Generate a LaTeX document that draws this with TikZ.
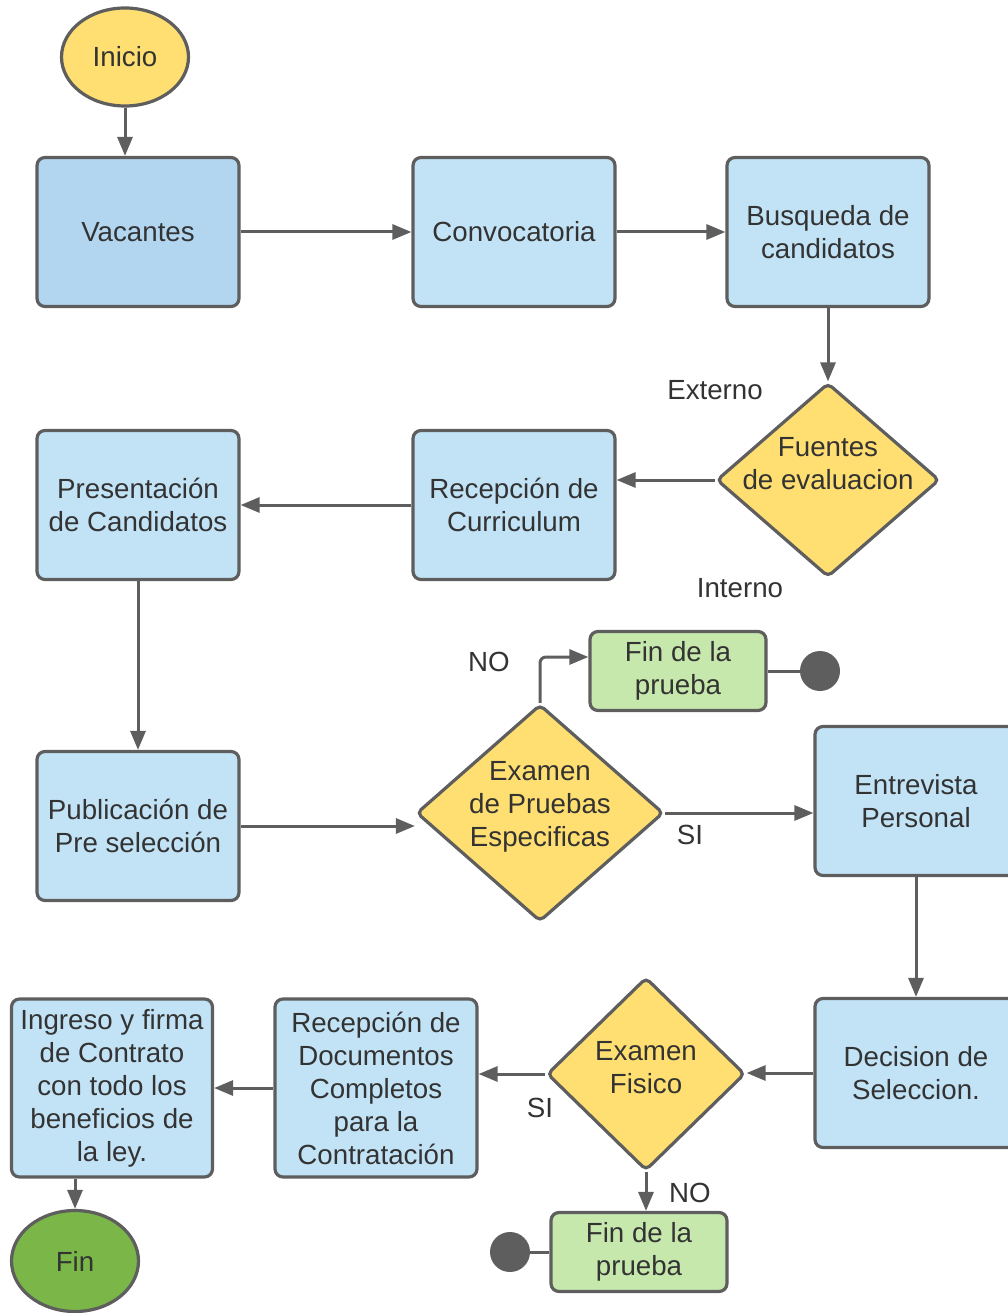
\documentclass[tikz,border=0pt]{standalone}
\usepackage{fontspec}
\setmainfont{Liberation Sans}
\usetikzlibrary{arrows.meta,shapes.geometric}

\definecolor{linegray}{HTML}{5E5E5E}
\definecolor{txtgray}{HTML}{333333}
\definecolor{boxblue}{HTML}{C2E3F6}
\definecolor{vacblue}{HTML}{B2D6F0}
\definecolor{decyellow}{HTML}{FFDF71}
\definecolor{finlight}{HTML}{C7E8AC}
\definecolor{findark}{HTML}{7AB648}

\begin{document}
\begin{tikzpicture}[x=1pt, y=-1pt,
  >={Triangle[length=19pt,width=15pt]},
  base/.style  ={draw=linegray, line width=3.2pt, text=txtgray, align=center,
                 inner sep=0pt, font=\fontsize{27.7}{33}\selectfont},
  box/.style   ={base, rounded corners=8pt, fill=boxblue,
                 minimum width=202pt, minimum height=149pt},
  tall/.style  ={box, minimum height=178pt},
  dec/.style   ={base, diamond, fill=decyellow, rounded corners=5pt},
  finbox/.style={base, rounded corners=8pt, fill=finlight,
                 minimum width=176pt, minimum height=79pt},
  term/.style  ={base, ellipse, minimum width=127pt},
  dot/.style   ={circle, fill=linegray, minimum size=40pt, inner sep=0pt},
  txt/.style   ={text=txtgray, align=center, inner sep=0pt,
                 font=\fontsize{27.7}{33}\selectfont},
  ln/.style    ={line width=3pt, draw=linegray},
  arr/.style   ={ln, ->}]

  \useasboundingbox (0,0) rectangle (1007,1313);

  % --- first row -----------------------------------------------------------
  \node[term, fill=decyellow, minimum height=98pt] (ini) at (125,57) {Inicio};
  \node[box, fill=vacblue] (vac) at (138,232) {Vacantes};
  \node[box] (conv) at (514,232) {Convocatoria};
  \node[box] (bus)  at (828,232) {Busqueda de\\candidatos};

  % --- second row ----------------------------------------------------------
  \node[dec, minimum width=223pt, minimum height=194pt] (fue) at (828,480) {};
  \node[txt] (fuet) at (828,464) {Fuentes\\de evaluacion};
  \node[box] (rcur) at (514,505) {Recepción de\\Curriculum};
  \node[box] (pres) at (138,505) {Presentación\\de Candidatos};
  \node[txt] (ext) at (715,390) {Externo};
  \node[txt] (int) at (740,588) {Interno};

  % --- third row -----------------------------------------------------------
  \node[box] (pub) at (138,826) {Publicación de\\Pre selección};
  \node[dec, minimum width=247pt, minimum height=217pt] (exa) at (540,813) {};
  \node[txt] (exat) at (540,807) {Examen\\de Pruebas\\Especificas};
  \node[finbox] (fin1) at (678,671) {Fin de la\\prueba};
  \node[dot] (dot1) at (820,671) {};
  \node[box] (ent) at (916,801) {Entrevista\\Personal};
  \node[txt] (no1) at (489,662) {NO};
  \node[txt] (si1) at (690,835) {SI};

  % --- fourth row ----------------------------------------------------------
  \node[box] (dsel) at (916,1073) {Decision de\\Seleccion.};
  \node[dec, minimum width=198pt, minimum height=193pt] (fis) at (646,1074) {};
  \node[txt] (fist) at (646,1068) {Examen\\Fisico};
  \node[tall] (rdoc) at (376,1088)
    {Recepción de\\Documentos\\Completos\\para la\\Contratación};
  \node[tall, minimum width=201pt] (ing) at (112,1088)
    {Ingreso y firma\\de Contrato\\con todo los\\beneficios de\\la ley.};
  \node[finbox] (fin2) at (639,1252) {Fin de la\\prueba};
  \node[dot] (dot2) at (510,1252) {};
  \node[term, fill=findark, minimum height=101pt] (fin) at (75,1261) {Fin};
  \node[txt] (si2) at (540,1108) {SI};
  \node[txt] (no2) at (690,1193) {NO};

  % --- connectors ----------------------------------------------------------
  \draw[arr] (ini.south) -- (ini.south |- vac.north);
  \draw[arr] (vac) -- (conv);
  \draw[arr] (conv) -- (bus);
  \draw[arr] (bus) -- (fue);
  \draw[arr] (fue.west) -- (fue.west -| rcur.east);
  \draw[arr] (rcur) -- (pres);
  \draw[arr] (pres) -- (pub);
  \draw[arr] (pub.east) -- (pub.east -| exa.west);
  \draw[arr] (exa.east) -- (exa.east -| ent.west);
  \draw[arr, rounded corners=6pt] (exa.north) |- ([yshift=14pt]fin1.west);
  \draw[ln] (fin1.east) -- (dot1);
  \draw[arr] (ent) -- (dsel);
  \draw[arr] (dsel.west) -- (dsel.west -| fis.east);
  \draw[arr] (fis.west) -- (fis.west -| rdoc.east);
  \draw[arr] (fis.south) -- (fis.south |- fin2.north);
  \draw[ln] (fin2.west) -- (dot2);
  \draw[arr] (rdoc) -- (ing);
  \draw[arr] (fin.north |- ing.south) -- (fin.north);
\end{tikzpicture}
\end{document}
